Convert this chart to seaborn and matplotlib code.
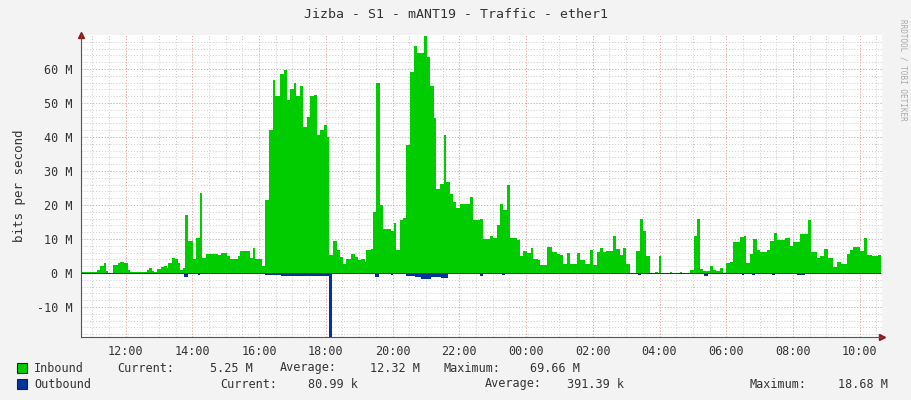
import numpy as np
import matplotlib
matplotlib.use("Agg")
import matplotlib.pyplot as plt
import seaborn as sns

# hours after 10:40 and inbound traffic (Mbit/s)
in_hours = [0.00, 0.37, 0.47, 0.57, 0.69, 0.75, 0.82, 0.97, 1.10, 1.17, 1.30, 1.42, 1.47, 1.92, 1.97, 2.05,
            2.12, 2.20, 2.27, 2.40, 2.50, 2.57, 2.62, 2.72, 2.81, 2.90, 2.96, 3.06, 3.12, 3.20, 3.28, 3.36,
            3.46, 3.56, 3.64, 3.76, 4.00, 4.10, 4.20, 4.36, 4.46, 4.66, 4.70, 4.76, 4.96, 5.06, 5.16, 5.22,
            5.36, 5.41, 5.50, 5.64, 5.76, 5.82, 5.96, 6.08, 6.16, 6.26, 6.38, 6.44, 6.56, 6.66, 6.76, 6.86,
            6.98, 7.08, 7.16, 7.28, 7.36, 7.44, 7.56, 7.66, 7.76, 7.85, 7.95, 8.10, 8.20, 8.30, 8.40, 8.50,
            8.55, 8.70, 8.75, 8.85, 8.95, 9.05, 9.20, 9.30, 9.37, 9.45, 9.55, 9.65, 9.75, 9.87, 9.97, 10.07,
            10.20, 10.27, 10.37, 10.47, 10.57, 10.65, 10.75, 10.87, 10.95, 11.05, 11.15, 11.25, 11.35, 11.55,
            11.67, 11.75, 11.95, 12.05, 12.25, 12.35, 12.45, 12.55, 12.65, 12.75, 12.85, 13.05, 13.15, 13.25,
            13.35, 13.47, 13.55, 13.70, 13.75, 13.90, 13.95, 14.10, 14.25, 14.35, 14.45, 14.55, 14.65, 14.85,
            14.95, 15.10, 15.25, 15.35, 15.45, 15.55, 15.64, 15.74, 15.89, 15.94, 16.02, 16.14, 16.24, 16.34,
            16.44, 16.59, 16.64, 16.76, 16.84, 16.94, 17.04, 17.19, 17.29, 17.32, 17.37, 17.64, 17.70, 17.94,
            18.00, 18.26, 18.36, 18.46, 18.54, 18.64, 18.74, 18.86, 18.94, 19.04, 19.14, 19.24, 19.34, 19.44,
            19.54, 19.69, 19.76, 19.86, 19.94, 20.04, 20.14, 20.24, 20.34, 20.44, 20.54, 20.64, 20.76, 20.84,
            21.04, 21.09, 21.24, 21.34, 21.44, 21.54, 21.69, 21.79, 21.86, 22.04, 22.14, 22.26, 22.39, 22.54,
            22.66, 22.76, 22.94, 23.04, 23.14, 23.29, 23.34, 23.46, 23.54, 23.69, 23.79, 23.89, 23.98]
inbound = [0.3, 0.3, 1.0, 2.0, 3.0, 0.5, 0.0, 2.5, 3.0, 3.4, 3.0, 1.0, 0.2, 0.2, 1.0, 1.5,
           0.5, 0.3, 1.2, 1.8, 2.2, 1.5, 3.0, 4.5, 4.2, 3.0, 1.0, 1.5, 17.0, 9.4, 9.4, 4.0,
           10.4, 23.5, 4.5, 5.7, 5.7, 5.2, 5.8, 5.0, 4.0, 4.0, 5.0, 6.4, 6.4, 4.5, 7.5, 4.2,
           4.0, 2.0, 21.6, 42.0, 56.7, 52.0, 58.6, 59.8, 51.0, 54.0, 56.0, 52.0, 55.0, 43.0, 46.0, 52.0,
           52.5, 40.5, 42.0, 43.6, 40.0, 5.2, 9.4, 6.7, 4.7, 2.7, 4.0, 5.7, 4.7, 3.8, 4.2, 3.2,
           6.9, 7.0, 18.0, 56.0, 20.0, 13.0, 13.0, 12.5, 14.8, 6.7, 15.5, 16.2, 37.7, 59.0, 66.7, 64.7,
           64.7, 69.66, 63.5, 55.0, 45.7, 24.8, 26.3, 40.5, 26.8, 23.3, 21.0, 19.0, 20.4, 20.4,
           22.4, 15.5, 15.8, 10.1, 10.8, 10.4, 14.0, 20.4, 18.6, 26.0, 10.4, 9.8, 4.9, 6.5,
           5.9, 7.5, 4.2, 3.9, 2.3, 2.3, 7.6, 6.2, 5.7, 5.4, 2.7, 6.0, 2.7, 6.0,
           3.8, 2.7, 6.9, 2.3, 6.2, 7.5, 6.2, 6.4, 6.4, 10.8, 7.0, 5.2, 7.5, 2.7,
           0.1, 0.1, 6.4, 15.8, 12.3, 5.0, 0.0, 0.2, 0.0, 4.9, 0.0, 0.2, 0.0, 0.2,
           0.0, 0.8, 11.0, 16.0, 1.2, 0.5, 0.6, 2.0, 0.8, 0.5, 1.6, 0.0, 3.0, 3.4,
           9.0, 9.0, 10.6, 10.8, 3.0, 5.5, 10.0, 6.9, 6.2, 6.3, 6.7, 9.4, 11.8, 9.8,
           9.8, 10.3, 8.1, 9.0, 9.0, 11.6, 11.4, 15.7, 6.2, 4.4, 5.0, 7.0, 4.4, 1.8,
           3.4, 2.7, 5.5, 6.7, 7.8, 7.8, 6.4, 10.4, 5.4, 5.0, 5.1, 5.2, 5.25]

# hours after 10:40 and outbound traffic (Mbit/s, drawn below zero)
out_hours = [0.0, 3.1, 3.22, 3.5, 3.58, 5.5, 6.0, 6.5, 7.0, 7.44, 7.51, 8.82, 8.92, 9.28, 9.36,
             9.75, 10.0, 10.2, 10.5, 10.8, 11.0, 11.95, 12.05, 12.6, 12.7, 16.7, 16.78, 18.68, 18.8,
             19.8, 19.88, 20.1, 20.18, 20.7, 20.78, 21.45, 21.7, 23.98]
outbound = [-0.15, -1.2, -0.15, -0.6, -0.15, -0.5, -0.8, -1.0, -0.8, -18.68, -0.2, -1.2, -0.2,
            -0.7, -0.2, -1.0, -1.3, -1.7, -1.2, -1.4, -0.3, -1.0, -0.2, -0.5, -0.15, -0.5, -0.15,
            -1.0, -0.15, -0.5, -0.15, -0.5, -0.15, -0.5, -0.15, -0.6, -0.15, -0.08]

tick_labels = ["12:00", "14:00", "16:00", "18:00", "20:00", "22:00", "00:00",
               "02:00", "04:00", "06:00", "08:00", "10:00"]
y_ticks = [-10, 0, 10, 20, 30, 40, 50, 60]

sns.set_style("white")
plt.rcParams['font.family'] = ['DejaVu Sans Mono']
green, blue = "#00CC00", "#0033A0"
txt = "#333333"

fig = plt.figure(figsize=(9.11, 4.0), dpi=100, facecolor="#F3F3F3")
ax = fig.add_axes([81 / 911, 63 / 400, 801 / 911, 302 / 400])
ax.set_facecolor("white")

ax.fill_between(in_hours, inbound, 0, step="post", color=green, lw=0)
ax.fill_between(out_hours, outbound, 0, step="post", color=blue, lw=0)

# grid
for h in np.arange(0, 24.01, 0.5):
    ax.axvline(h + 20 / 60, color="#CCCCCC", lw=0.7, ls=(0, (1, 2)), zorder=0)
for v in np.arange(-18, 70, 2):
    ax.axhline(v, color="#CCCCCC", lw=0.7, ls=(0, (1, 2)), zorder=0)
xt = [(int(l[:2]) * 60 - 640) % 1440 / 60 for l in tick_labels]
for h in xt:
    ax.axvline(h, color="#F4A0A0", lw=0.7, ls=(0, (1, 2)), zorder=0)
for v in y_ticks:
    ax.axhline(v, color="#F4A0A0", lw=0.7, ls=(0, (1, 2)), zorder=0)

ax.set_xlim(0, 24)
ax.set_ylim(-18.8, 70)
ax.set_xticks(xt)
ax.set_xticklabels(tick_labels)
ax.set_yticks(y_ticks)
ax.set_yticklabels([f"{v} M" for v in y_ticks])
ax.tick_params(colors=txt, labelsize=8.5, length=0, pad=6)
for s in ["top", "right"]:
    ax.spines[s].set_visible(False)
ax.spines["left"].set_color("#555555")
ax.spines["bottom"].set_color("#555555")
ax.set_ylabel("bits per second", color=txt, fontsize=9, labelpad=8)
ax.plot(1, 0, ">", transform=ax.transAxes, color="#8B1A1A", ms=4, clip_on=False)
ax.plot(0, 1, "^", transform=ax.transAxes, color="#8B1A1A", ms=4, clip_on=False)

fig.text(0.5, 1 - 14 / 400, "Jizba - S1 - mANT19 - Traffic - ether1", ha="center", va="center",
         fontsize=9.5, color=txt)
fig.text(903 / 911, 1 - 70 / 400, "RRDTOOL / TOBI OETIKER", rotation=270, ha="center", va="center",
         fontsize=5.5, color="#AAAAAA")

# legend
for yy, col in [(368, green), (384, blue)]:
    fig.patches.append(plt.Rectangle((17 / 911, 1 - (yy + 5) / 400), 10 / 911, 10 / 400,
                                     transform=fig.transFigure, facecolor=col, edgecolor="#222222", lw=0.8))
lines = [(368, [(34, "Inbound"), (117, "Current:"), (210, "5.25 M"), (280, "Average:"),
                (370, "12.32 M"), (443, "Maximum:"), (530, "69.66 M")]),
         (384, [(34, "Outbound"), (220, "Current:"), (308, "80.99 k"), (485, "Average:"),
                (567, "391.39 k"), (749, "Maximum:"), (838, "18.68 M")])]
for yy, items in lines:
    for x, s in items:
        fig.text(x / 911, 1 - yy / 400, s, ha="left", va="center", fontsize=8.5, color=txt)

fig.savefig("out.png", dpi=100, facecolor=fig.get_facecolor())
